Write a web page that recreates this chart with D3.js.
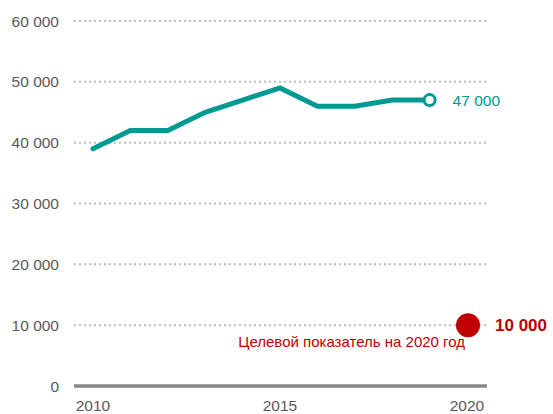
<!DOCTYPE html>
<html>
<head>
<meta charset="utf-8">
<script src="https://d3js.org/d3.v7.min.js"></script>
<style>
  body { margin: 0; background: #fff; }
  text { font-family: "Liberation Sans", Arial, sans-serif; }
</style>
</head>
<body>
<div id="chart"></div>
<script>
// data
var years = [2010, 2011, 2012, 2013, 2014, 2015, 2016, 2017, 2018, 2019];
var values = [39000, 42000, 42000, 45000, 47000, 49000, 46000, 46000, 47000, 47000];
var yTicks = [0, 10000, 20000, 30000, 40000, 50000, 60000];
var xTicks = [2010, 2015, 2020];
var targetYear = 2020;
var targetValue = 10000;
var targetLabel = "Целевой показатель на 2020 год";

var width = 553, height = 414;
var teal = "#009a93", red = "#c00000", grey = "#595959";

var svg = d3.select("#chart").append("svg")
  .attr("width", width)
  .attr("height", height);

var x = d3.scaleLinear().domain([2010, 2020]).range([93, 467]);
var y = d3.scaleLinear().domain([0, 60000]).range([386, 21]);

var fmt = function(v) { return d3.format(",")(v).replace(/,/g, " "); };

// gridlines
svg.selectAll(".grid")
  .data(yTicks.filter(function(d) { return d > 0; }))
  .enter().append("line")
  .attr("x1", 74).attr("x2", 486)
  .attr("y1", function(d) { return y(d); })
  .attr("y2", function(d) { return y(d); })
  .attr("stroke", "#bdbdbd")
  .attr("stroke-width", 2)
  .attr("stroke-dasharray", "2,3");

// zero line
svg.append("line")
  .attr("x1", 74).attr("x2", 487)
  .attr("y1", y(0)).attr("y2", y(0))
  .attr("stroke", "#888").attr("stroke-width", 3.5);

// y labels
svg.selectAll(".ylab")
  .data(yTicks)
  .enter().append("text")
  .attr("x", 59)
  .attr("y", function(d) { return y(d); })
  .attr("dy", "0.36em")
  .attr("text-anchor", "end")
  .attr("font-size", 15.5)
  .attr("fill", grey)
  .text(fmt);

// x labels
svg.selectAll(".xlab")
  .data(xTicks)
  .enter().append("text")
  .attr("x", function(d) { return x(d); })
  .attr("y", 411)
  .attr("text-anchor", "middle")
  .attr("font-size", 15.5)
  .attr("fill", grey)
  .text(function(d) { return d; });

// line
var line = d3.line()
  .x(function(d, i) { return x(years[i]); })
  .y(function(d) { return y(d); });

svg.append("path")
  .datum(values)
  .attr("d", line)
  .attr("fill", "none")
  .attr("stroke", teal)
  .attr("stroke-width", 5)
  .attr("stroke-linejoin", "miter")
  .attr("stroke-linecap", "round");

var lastY = years[years.length - 1], lastV = values[values.length - 1];
svg.append("circle")
  .attr("cx", x(lastY)).attr("cy", y(lastV))
  .attr("r", 5.5)
  .attr("fill", "#fff")
  .attr("stroke", teal)
  .attr("stroke-width", 3);

svg.append("text")
  .attr("x", x(lastY) + 23)
  .attr("y", y(lastV))
  .attr("dy", "0.36em")
  .attr("font-size", 15.5)
  .attr("fill", teal)
  .text(fmt(lastV));

// target
svg.append("circle")
  .attr("cx", x(targetYear) + 1).attr("cy", y(targetValue))
  .attr("r", 12)
  .attr("fill", red);

svg.append("text")
  .attr("x", x(targetYear) + 28)
  .attr("y", y(targetValue))
  .attr("dy", "0.36em")
  .attr("font-size", 17)
  .attr("font-weight", "bold")
  .attr("fill", red)
  .text(fmt(targetValue));

svg.append("text")
  .attr("x", x(targetYear) - 2)
  .attr("y", 347)
  .attr("text-anchor", "end")
  .attr("font-size", 15)
  .attr("fill", red)
  .text(targetLabel);
</script>
</body>
</html>
